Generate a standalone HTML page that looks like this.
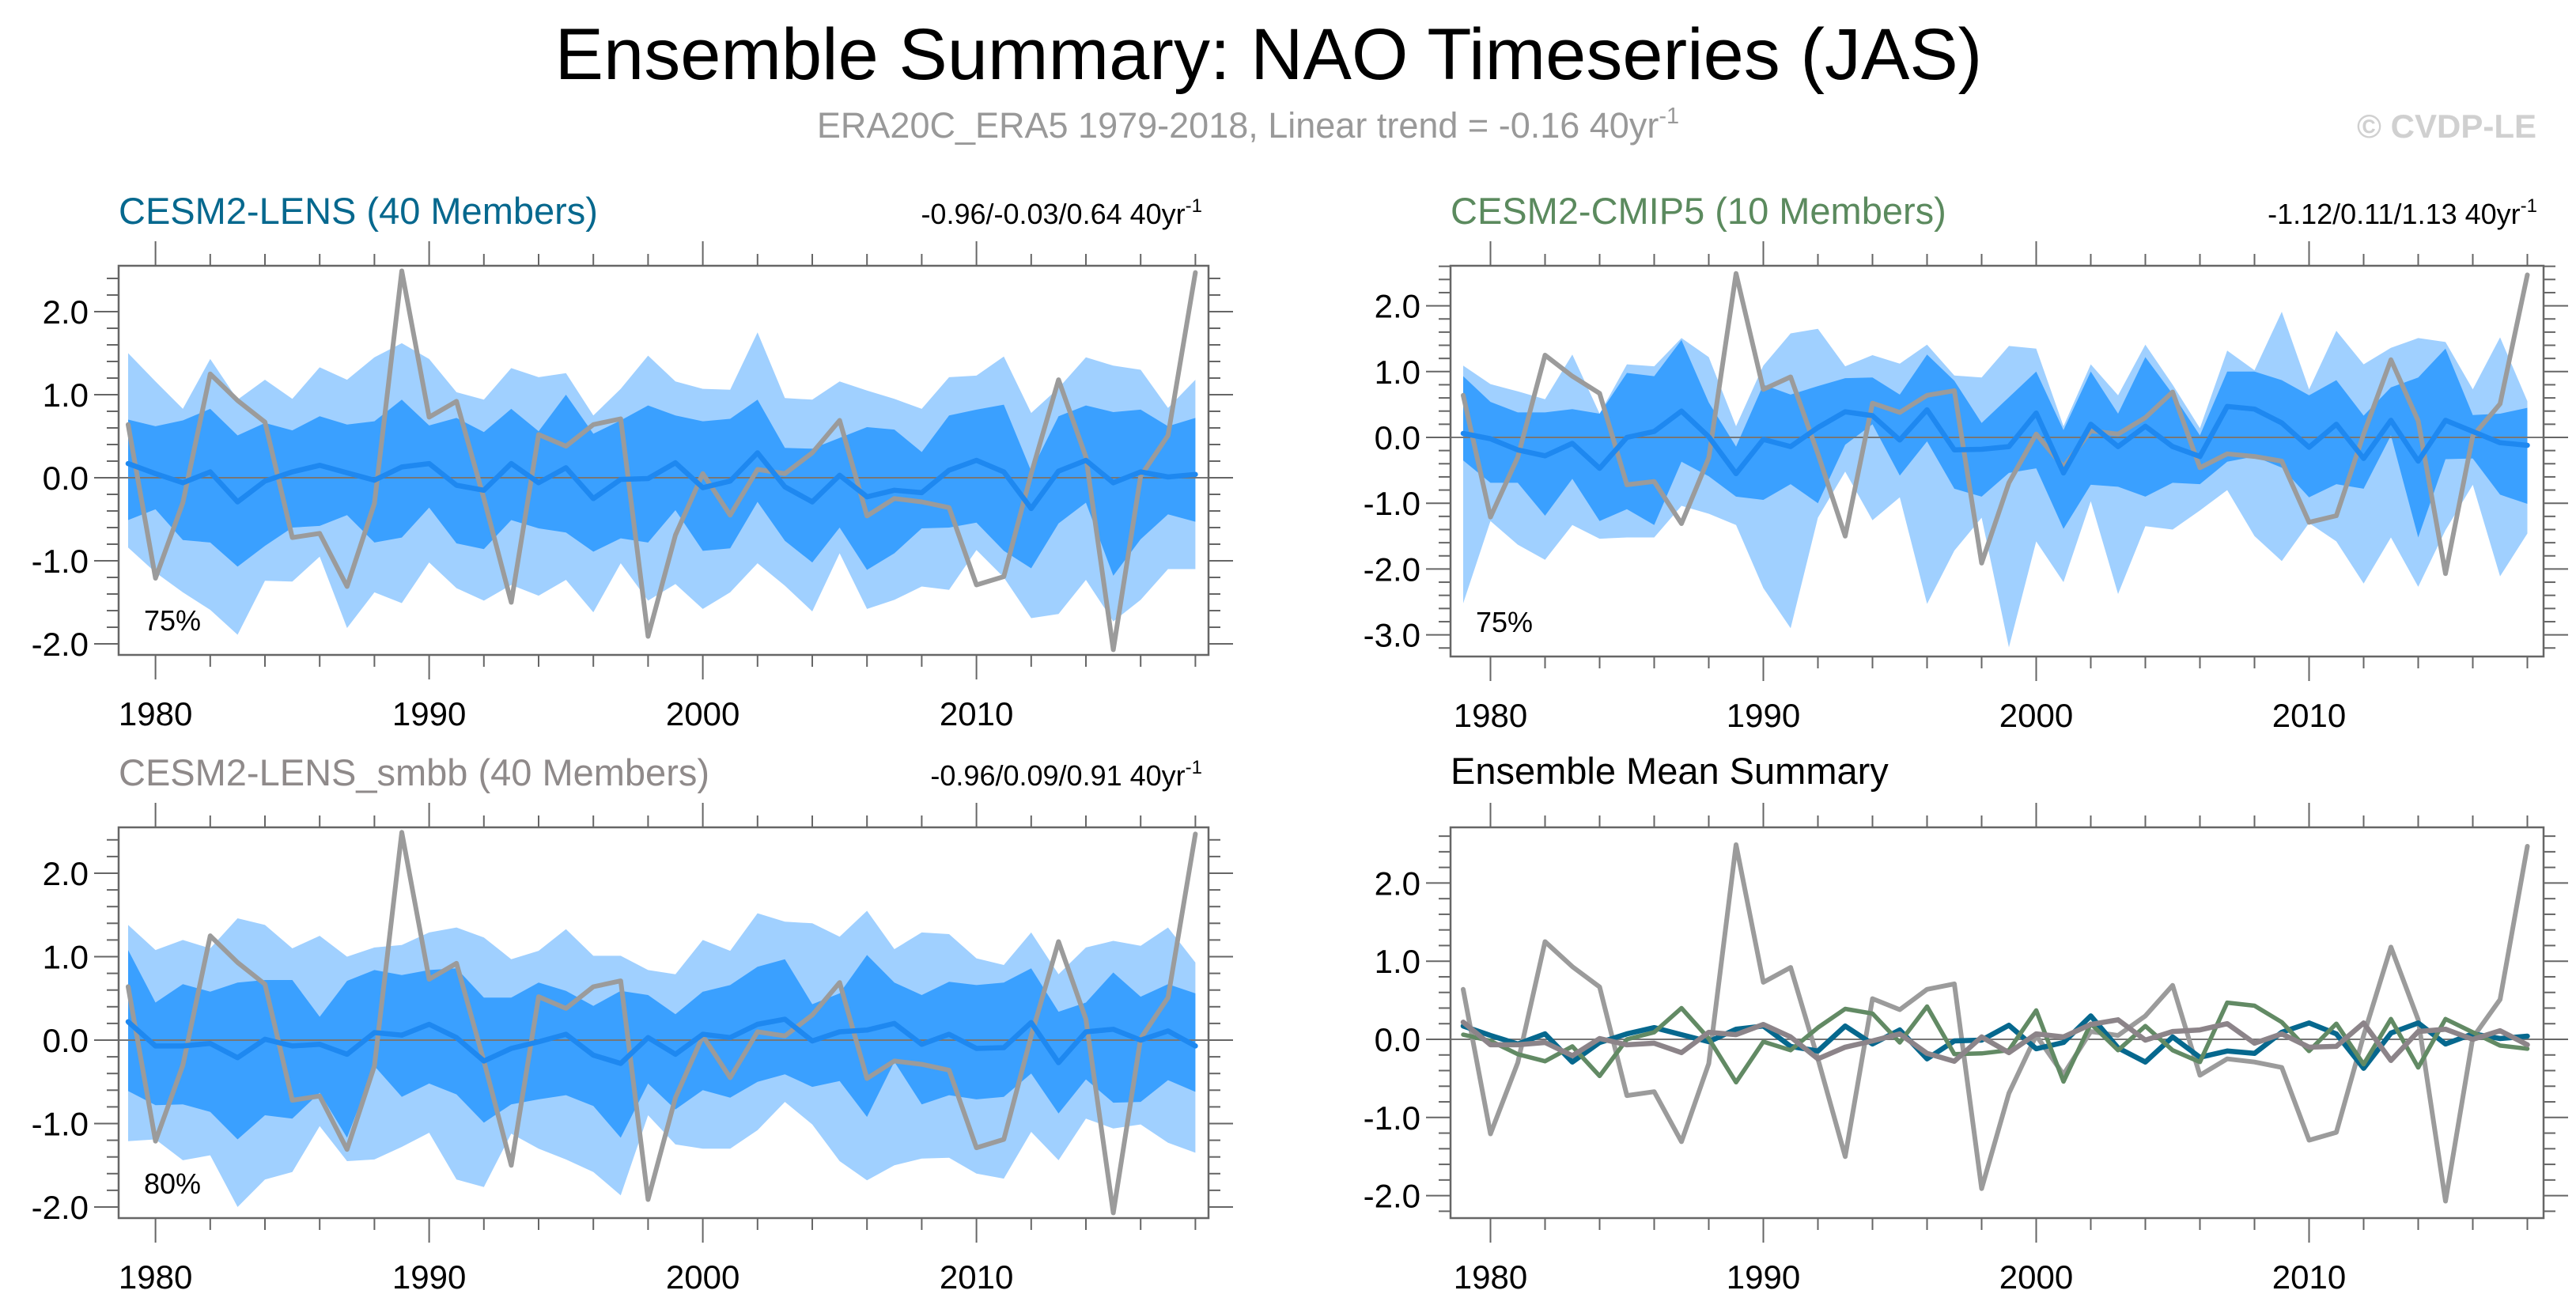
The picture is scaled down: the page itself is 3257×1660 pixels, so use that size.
<!DOCTYPE html>
<html><head><meta charset="utf-8">
<style>
html,body{margin:0;padding:0;background:#fff;}
svg{display:block;font-family:"Liberation Sans",Arial,sans-serif;}
</style></head>
<body>
<svg id="fig" width="3257" height="1660" viewBox="0 0 3257 1660" xmlns="http://www.w3.org/2000/svg">
<text x="1604" y="100" font-size="92" text-anchor="middle" fill="#000">Ensemble Summary: NAO Timeseries (JAS)</text>
<text x="1578" y="174" font-size="45" text-anchor="middle" fill="#999">ERA20C_ERA5 1979-2018, Linear trend = -0.16 40yr<tspan dy="-18" font-size="29">-1</tspan></text>
<text x="3207" y="174" font-size="42" font-weight="bold" text-anchor="end" fill="#d0d0d0">© CVDP-LE</text>
</svg>
<script>
const years = [];
for (let y = 1979; y <= 2018; y++) years.push(y);
const obs = [0.64,-1.21,-0.3,1.25,0.93,0.67,-0.72,-0.67,-1.31,-0.31,2.49,0.73,0.92,-0.25,-1.50,0.52,0.38,0.64,0.71,-1.91,-0.69,0.05,-0.45,0.10,0.05,0.30,0.69,-0.46,-0.25,-0.29,-0.36,-1.29,-1.19,0.05,1.18,0.25,-2.07,0.02,0.51,2.47];

const lensMean = [0.17,0.05,-0.06,0.07,-0.29,-0.04,0.07,0.15,0.06,-0.03,0.13,0.17,-0.09,-0.15,0.17,-0.06,0.12,-0.25,-0.02,-0.01,0.18,-0.12,-0.04,0.30,-0.11,-0.29,0.03,-0.23,-0.15,-0.18,0.09,0.21,0.07,-0.37,0.08,0.21,-0.06,0.07,0.01,0.04];
const lensOuterHi = [1.50,1.16,0.83,1.43,0.94,1.18,0.95,1.33,1.18,1.45,1.62,1.43,1.03,0.94,1.32,1.21,1.26,0.75,1.07,1.47,1.16,1.07,1.06,1.75,0.96,0.94,1.16,1.05,0.95,0.83,1.21,1.23,1.46,0.78,1.08,1.45,1.35,1.30,0.84,1.18];
const lensInnerHi = [0.70,0.62,0.69,0.83,0.51,0.66,0.57,0.74,0.64,0.68,0.94,0.63,0.72,0.55,0.83,0.56,1.00,0.53,0.69,0.87,0.75,0.68,0.71,0.94,0.36,0.35,0.48,0.61,0.58,0.31,0.75,0.82,0.88,0.08,0.74,0.87,0.79,0.82,0.62,0.72];
const lensInnerLo = [-0.51,-0.38,-0.75,-0.78,-1.07,-0.82,-0.60,-0.58,-0.45,-0.78,-0.72,-0.36,-0.79,-0.86,-0.51,-0.61,-0.66,-0.89,-0.73,-0.78,-0.39,-0.88,-0.85,-0.29,-0.76,-1.02,-0.60,-1.11,-0.91,-0.61,-0.60,-0.54,-0.88,-1.09,-0.55,-0.30,-1.18,-0.74,-0.44,-0.53];
const lensOuterLo = [-0.84,-1.14,-1.38,-1.59,-1.89,-1.24,-1.25,-0.95,-1.81,-1.38,-1.51,-1.02,-1.33,-1.48,-1.29,-1.42,-1.23,-1.62,-1.03,-1.48,-1.28,-1.58,-1.38,-1.03,-1.30,-1.61,-0.91,-1.58,-1.47,-1.31,-1.35,-0.87,-1.20,-1.69,-1.64,-1.23,-1.73,-1.47,-1.10,-1.10];

const cmipMean = [0.06,-0.02,-0.19,-0.28,-0.09,-0.47,0.00,0.09,0.40,0.01,-0.55,-0.03,-0.14,0.15,0.39,0.33,-0.04,0.42,-0.19,-0.18,-0.14,0.37,-0.54,0.20,-0.14,0.17,-0.14,-0.29,0.47,0.43,0.22,-0.15,0.20,-0.32,0.26,-0.36,0.26,0.09,-0.08,-0.12];
const cmipOuterHi = [1.09,0.81,0.70,0.58,1.26,0.36,1.11,1.08,1.51,1.22,0.17,1.09,1.58,1.65,1.08,1.25,1.12,1.41,0.94,0.91,1.39,1.35,0.17,1.11,0.64,1.41,0.80,0.14,1.32,1.02,1.91,0.73,1.62,1.11,1.36,1.51,1.45,0.73,1.52,0.55];
const cmipInnerHi = [0.93,0.54,0.38,0.38,0.43,0.36,0.98,0.93,1.48,0.53,-0.14,0.80,0.65,0.78,0.90,0.91,0.65,1.26,0.86,0.22,0.61,1.00,0.11,1.00,0.36,1.22,0.66,0.03,1.00,1.00,0.87,0.64,0.87,0.33,0.76,0.91,1.35,0.34,0.36,0.45];
const cmipInnerLo = [-0.35,-0.69,-0.69,-1.19,-0.63,-1.27,-1.09,-1.33,-0.37,-0.59,-0.90,-0.95,-0.71,-1.00,-0.11,0.20,-0.58,-0.06,-0.78,-0.90,-0.54,-0.47,-1.39,-0.72,-0.75,-0.90,-0.69,-0.71,-0.37,-0.29,-0.46,-0.91,-0.71,-0.78,0.03,-1.52,-0.33,-0.32,-0.87,-1.01];
const cmipOuterLo = [-2.52,-1.27,-1.63,-1.86,-1.33,-1.54,-1.52,-1.52,-1.04,-1.16,-1.33,-2.29,-2.90,-1.22,-0.52,-1.26,-0.91,-2.53,-1.72,-1.22,-3.19,-1.58,-2.20,-0.97,-2.38,-1.35,-1.40,-1.11,-0.80,-1.50,-1.88,-1.30,-1.58,-2.22,-1.52,-2.27,-1.41,-0.72,-2.11,-1.46];

const smbbMean = [0.22,-0.07,-0.07,-0.04,-0.21,0.01,-0.07,-0.05,-0.17,0.09,0.06,0.19,0.03,-0.25,-0.10,-0.02,0.07,-0.18,-0.28,0.03,-0.17,0.07,0.03,0.19,0.25,-0.01,0.10,0.12,0.20,-0.05,0.07,-0.10,-0.09,0.21,-0.27,0.10,0.13,0.00,0.11,-0.07];
const smbbOuterHi = [1.38,1.08,1.20,1.10,1.46,1.38,1.10,1.25,1.00,1.11,1.14,1.29,1.35,1.23,0.97,1.07,1.33,1.01,1.01,0.84,0.79,1.20,1.07,1.52,1.42,1.40,1.24,1.55,1.09,1.29,1.27,0.98,0.90,1.29,0.79,1.11,1.19,1.13,1.35,0.93];
const smbbInnerHi = [1.08,0.45,0.67,0.58,0.69,0.72,0.72,0.28,0.71,0.84,0.78,0.84,0.86,0.51,0.51,0.69,0.59,0.41,0.59,0.54,0.31,0.58,0.66,0.88,0.97,0.43,0.56,1.02,0.69,0.54,0.70,0.66,0.69,0.86,0.34,0.45,0.81,0.52,0.67,0.56];
const smbbInnerLo = [-0.61,-0.78,-0.77,-0.86,-1.19,-0.90,-0.94,-0.63,-1.17,-0.31,-0.68,-0.52,-0.65,-0.99,-0.77,-0.71,-0.66,-0.79,-1.17,-0.52,-0.83,-0.60,-0.69,-0.50,-0.41,-0.56,-0.49,-0.92,-0.26,-0.77,-0.66,-0.71,-0.68,-0.40,-0.88,-0.47,-0.75,-0.74,-0.48,-0.62];
const smbbOuterLo = [-1.21,-1.19,-1.44,-1.38,-2.00,-1.67,-1.58,-1.03,-1.45,-1.43,-1.28,-1.11,-1.67,-1.76,-1.12,-1.30,-1.43,-1.58,-1.86,-0.90,-1.25,-1.30,-1.30,-1.08,-0.74,-1.01,-1.45,-1.68,-1.50,-1.42,-1.41,-1.60,-1.66,-1.10,-1.44,-0.94,-1.06,-1.01,-1.23,-1.35];

const yTicksA = [2,1,0,-1,-2];
const yTicksB = [2,1,0,-1,-2,-3];
const xTickLabels = [1980,1990,2000,2010];

const NS = "http://www.w3.org/2000/svg";
const svg = document.getElementById("fig");
function mk(tag, attrs, parent) {
  const e = document.createElementNS(NS, tag);
  for (const k in attrs) e.setAttribute(k, attrs[k]);
  (parent || svg).appendChild(e);
  return e;
}

function panel(cfg) {
  const g = mk("g", {});
  
  
  const xs = yr => cfg.x1979 + (yr - 1979) * cfg.dx;
  const ys = v => cfg.zero - v * cfg.unit;
  const vTop = (cfg.zero - cfg.top) / cfg.unit, vBot = (cfg.zero - cfg.bot) / cfg.unit;

  const t = mk("text", {x: cfg.left, y: cfg.titleY, "font-size": 47, fill: cfg.titleColor}, g);
  t.textContent = cfg.title;
  
  
  if (cfg.stats) {
    const s = mk("text", {x: cfg.right - 8, y: cfg.titleY, "font-size": 36, "text-anchor": "end", fill: "#000"}, g);
    s.textContent = cfg.stats + " 40yr";
    const sup = mk("tspan", {dy: -15, "font-size": 24}, s);
    sup.textContent = "-1";
    
    
  }

  function band(hi, lo, color, nm) {
    let d = "";
    years.forEach((yr, i) => { d += (i ? "L" : "M") + xs(yr).toFixed(1) + "," + ys(hi[i]).toFixed(1); });
    for (let i = years.length - 1; i >= 0; i--) d += "L" + xs(years[i]).toFixed(1) + "," + ys(lo[i]).toFixed(1);
    const p = mk("path", {d: d + "Z", fill: color}, g);
    
    
  }
  if (cfg.outerHi) {
    band(cfg.outerHi, cfg.outerLo, "#a0d0ff", "outer-percentile-band");
    band(cfg.innerHi, cfg.innerLo, "#3aa0ff", "inner-percentile-band");
  }
  const z = mk("line", {x1: cfg.left, x2: cfg.right, y1: ys(0), y2: ys(0), stroke: "#777", "stroke-width": 2}, g);
  
  

  function line(vals, color, w, nm) {
    const pts = years.map((yr, i) => xs(yr).toFixed(1) + "," + ys(vals[i]).toFixed(1)).join(" ");
    const p = mk("polyline", {points: pts, fill: "none", stroke: color, "stroke-width": w, "stroke-linejoin": "round", "stroke-linecap": "round"}, g);
    
    
  }
  cfg.lines.forEach(l => line(l.v, l.c, l.w, l.n));

  const fr = mk("rect", {x: cfg.left, y: cfg.top, width: cfg.right - cfg.left, height: cfg.bot - cfg.top, fill: "none", stroke: "#666", "stroke-width": 2.5}, g);
  
  

  const tk = "#666";
  for (let k = Math.ceil(vBot * 5); k <= Math.floor(vTop * 5); k++) {
    const v = k / 5, py = ys(v), major = (k % 5 === 0), L = major ? 31 : 15;
    mk("line", {x1: cfg.left - L, x2: cfg.left, y1: py, y2: py, stroke: tk, "stroke-width": 2}, g);
    mk("line", {x1: cfg.right, x2: cfg.right + L, y1: py, y2: py, stroke: tk, "stroke-width": 2}, g);
  }
  cfg.yTicks.forEach(v => {
    const tt = mk("text", {x: cfg.left - 38, y: ys(v) + 15, "font-size": 42, "text-anchor": "end", fill: "#000"}, g);
    tt.textContent = v.toFixed(1);
    
    
  });
  for (let yr = 1980; yr <= 2018; yr += 2) {
    const px = xs(yr), major = (yr % 10 === 0), L = major ? 31 : 15;
    mk("line", {x1: px, x2: px, y1: cfg.top - L, y2: cfg.top, stroke: tk, "stroke-width": 2}, g);
    mk("line", {x1: px, x2: px, y1: cfg.bot, y2: cfg.bot + L, stroke: tk, "stroke-width": 2}, g);
  }
  xTickLabels.forEach(yr => {
    const tt = mk("text", {x: xs(yr), y: cfg.bot + 89, "font-size": 42, "text-anchor": "middle", fill: "#000"}, g);
    tt.textContent = yr;
    
    
  });
  if (cfg.pct) {
    const pt = mk("text", {x: cfg.left + 32, y: cfg.bot - 31, "font-size": 36, fill: "#000"}, g);
    pt.textContent = cfg.pct;
    
    
  }
}

const OBS = {v: obs, c: "#9b9b9b", w: 6, n: "observed-nao-line"};
panel({name: "panel-cesm2-lens", left: 150, right: 1528, top: 336, bot: 828, zero: 604, unit: 105, x1979: 162, dx: 34.6,
  title: "CESM2-LENS (40 Members)", titleColor: "#06688e", titleY: 283, stats: "-0.96/-0.03/0.64",
  outerHi: lensOuterHi, outerLo: lensOuterLo, innerHi: lensInnerHi, innerLo: lensInnerLo,
  lines: [OBS, {v: lensMean, c: "#1e88f0", w: 6.5, n: "ensemble-mean-line"}], yTicks: yTicksA, pct: "75%"});
panel({name: "panel-cesm2-cmip5", left: 1834, right: 3216, top: 336, bot: 830, zero: 553, unit: 83.2, x1979: 1850, dx: 34.5,
  title: "CESM2-CMIP5 (10 Members)", titleColor: "#5b8a5e", titleY: 283, stats: "-1.12/0.11/1.13",
  outerHi: cmipOuterHi, outerLo: cmipOuterLo, innerHi: cmipInnerHi, innerLo: cmipInnerLo,
  lines: [OBS, {v: cmipMean, c: "#1e88f0", w: 6.5, n: "ensemble-mean-line"}], yTicks: yTicksB, pct: "75%"});
panel({name: "panel-cesm2-lens-smbb", left: 150, right: 1528, top: 1046, bot: 1540, zero: 1315, unit: 105.5, x1979: 162, dx: 34.6,
  title: "CESM2-LENS_smbb (40 Members)", titleColor: "#8f8a8a", titleY: 993, stats: "-0.96/0.09/0.91",
  outerHi: smbbOuterHi, outerLo: smbbOuterLo, innerHi: smbbInnerHi, innerLo: smbbInnerLo,
  lines: [OBS, {v: smbbMean, c: "#1e88f0", w: 6.5, n: "ensemble-mean-line"}], yTicks: yTicksA, pct: "80%"});
panel({name: "panel-ensemble-mean-summary", left: 1834, right: 3216, top: 1046, bot: 1540, zero: 1314, unit: 98.8, x1979: 1850, dx: 34.5,
  title: "Ensemble Mean Summary", titleColor: "#000", titleY: 991, stats: null,
  lines: [OBS, {v: lensMean, c: "#06688e", w: 6.5, n: "cesm2-lens-mean-line"}, {v: cmipMean, c: "#628a64", w: 5.5, n: "cesm2-cmip5-mean-line"}, {v: smbbMean, c: "#8c8489", w: 6.5, n: "cesm2-lens-smbb-mean-line"}],
  yTicks: yTicksA, pct: null});
</script>
</body></html>
